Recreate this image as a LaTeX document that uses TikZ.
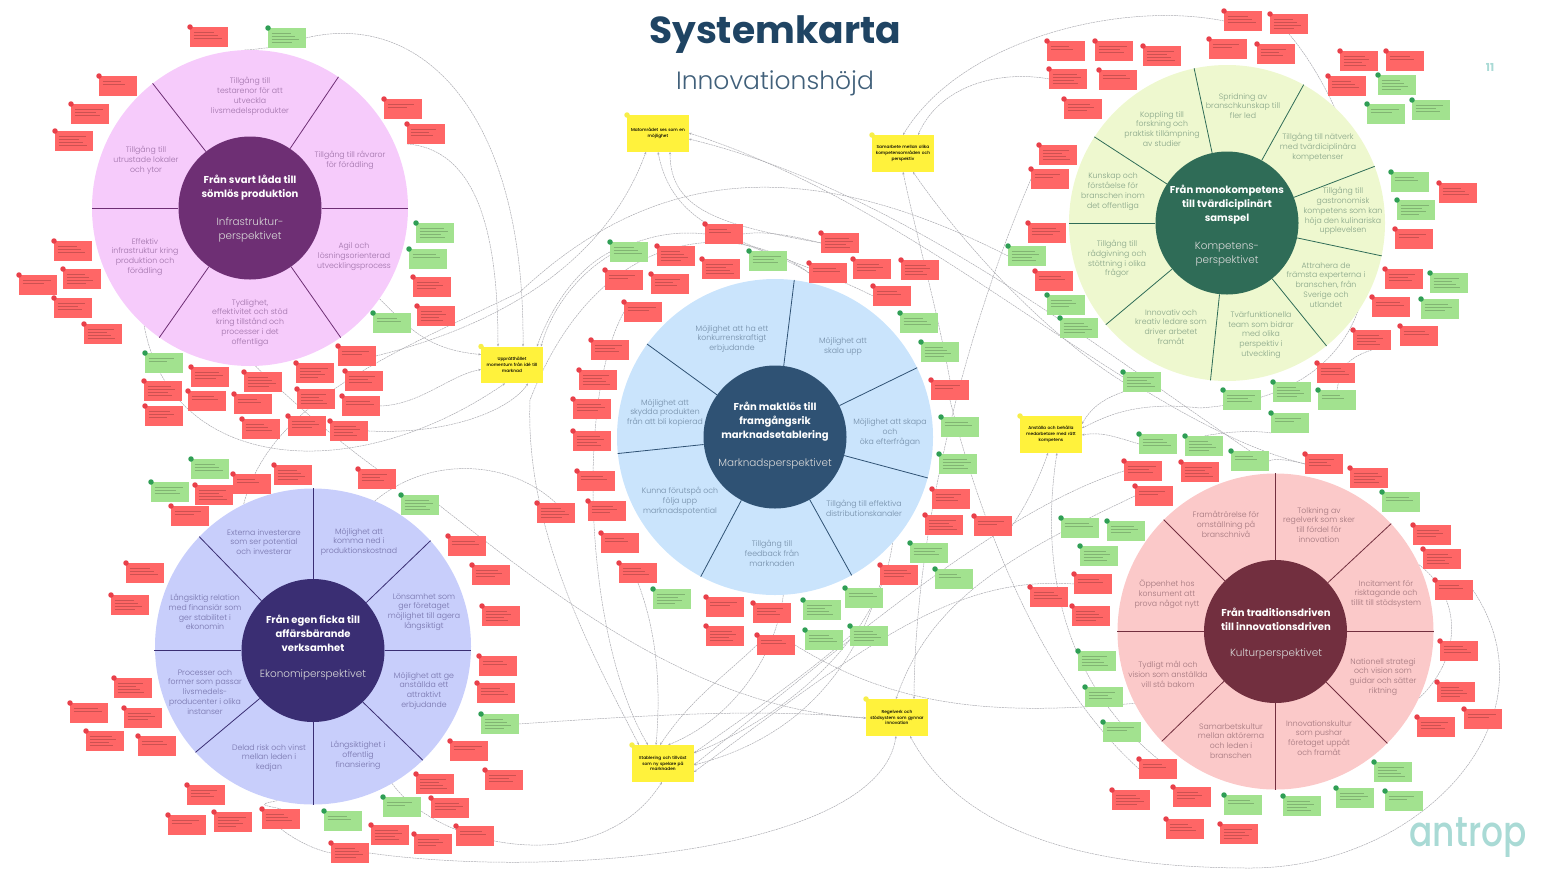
\documentclass[tikz,border=0pt]{standalone}
\usepackage{fontspec}
\usepackage{graphicx}
\setmainfont{Poppins}
\newfontfamily\lightf{Poppins Light}
\newfontfamily\medf{Poppins Medium}
\usetikzlibrary{arrows.meta}
\pgfdeclarelayer{back}
\pgfsetlayers{back,main}
\definecolor{str}{HTML}{FF6666}
\definecolor{stg}{HTML}{A2E28F}
\definecolor{bdr}{HTML}{E8404A}
\definecolor{bdg}{HTML}{2F9E55}
\definecolor{sty}{HTML}{FFF23C}
\definecolor{bdy}{HTML}{F7EE4A}
\definecolor{navy}{HTML}{1F4463}
\definecolor{teal}{HTML}{A9DAD5}
\definecolor{cnn}{HTML}{ABABB0}
\definecolor{infO}{HTML}{F6CBFB}\definecolor{infC}{HTML}{6E2F74}\definecolor{infT}{HTML}{9F72A9}
\definecolor{mkO}{HTML}{CAE4FC}\definecolor{mkC}{HTML}{2F5274}\definecolor{mkT}{HTML}{738DA7}
\definecolor{koO}{HTML}{EEF8CF}\definecolor{koC}{HTML}{2F6C57}\definecolor{koT}{HTML}{86A387}
\definecolor{ekO}{HTML}{C8CEFB}\definecolor{ekC}{HTML}{3A2E73}\definecolor{ekT}{HTML}{7673AB}
\definecolor{kuO}{HTML}{FBC9C9}\definecolor{kuC}{HTML}{722F3F}\definecolor{kuT}{HTML}{A2767D}
\tikzset{
  x=1pt,y=-1pt,
  stick/.style={rectangle,anchor=north west,minimum width=37.5pt,minimum height=19.5pt,inner sep=0pt},
  badge/.style={circle,inner sep=0pt,minimum size=5.5pt},
  ynote/.style={rectangle,fill=sty,anchor=north west,minimum width=61.5pt,minimum height=36.5pt,inner sep=0pt,align=center,text width=61pt,font=\medf\fontsize{4.3}{5.8}\selectfont,text=black},
  wheelO/.style={circle,minimum size=316pt,inner sep=0pt},
  wheelC/.style={circle,minimum size=143pt,inner sep=0pt},
  spoke/.style={line width=.8pt},
  wtext/.style={align=center,inner sep=0pt,font=\lightf\fontsize{7.8}{9.9}\selectfont},
  ctitle/.style={align=center,inner sep=0pt,text=white,font=\bfseries\fontsize{10}{14}\selectfont},
  csub/.style={align=center,inner sep=0pt,text=white!85!black,font=\lightf\fontsize{10.4}{14}\selectfont},
  conn/.style={draw=cnn,line width=.5pt,dash pattern=on 2pt off .7pt,-{Stealth[length=2.6pt,width=2.2pt]}},
  plainc/.style={draw=cnn,line width=.5pt,dash pattern=on 2pt off .7pt},
}
\newcommand{\wheelpart}[5]{%
  \node[wheelO,fill=#1O] (#1O) at (#2,#3) {};
  \node[wheelC,fill=#1C] (#1C) at (#2,#4) {};
  \foreach \a in {#5} \draw[spoke,draw=#1C] (#1C.\a) -- (#1O.\a);
}
\newcommand{\cv}[4]{\draw[conn] (#1) .. controls (#2) and (#3) .. (#4);}
\newcommand{\cp}[4]{\draw[plainc] (#1) .. controls (#2) and (#3) .. (#4);}
\newcommand{\notes}[1]{%
  \foreach \id/\c/\x/\y [count=\i] in {#1} {%
    \node[stick,fill=st\c] (\id) at (\x,\y) {};
    \node[badge,fill=bd\c] (\id b) at (\id.north west) {};
    \pgfmathtruncatemacro{\nl}{2+mod(\i,3)}
    \foreach \l in {1,...,\nl} {%
      \pgfmathsetmacro{\wl}{28-mod(\l*7+\i,11)}
      \draw[black,opacity=.2,line width=.5pt] ([shift={(3.5,3+2.7*\l)}]\id.north west) -- ++(\wl,0);
    }
  }
}
\newcommand{\ybox}[4]{%
  \node[ynote] (#1) at (#2,#3) {#4};
  \node[badge,fill=bdy] (#1b) at (#1.north west) {};
}
\begin{document}
\begin{tikzpicture}
\useasboundingbox (0,0) rectangle (1544,871);

% title
\node[inner sep=0pt,text=navy,font=\bfseries\fontsize{37.6}{40}\selectfont] (title) at (775,35) {Systemkarta};
\node[inner sep=0pt,text=navy!85,font=\lightf\fontsize{25}{28}\selectfont] (subtitle) at (775,83) {Innovationshöjd};
\node[inner sep=0pt,text=teal,font=\bfseries\fontsize{11}{12}\selectfont] (pageno) at (1490,67) {11};
\node[inner sep=0pt,text=teal,font=\medf\fontsize{42}{44}\selectfont] (logo) at (1468,838) {\scalebox{.82}[1]{antrop}};

% wheels
\wheelpart{inf}{250}{208}{208}{128,56,0,-55,-125,180}
\wheelpart{mk}{775}{437}{437}{83.5,144.5,186,242,299.5,345,26}
\wheelpart{ko}{1227}{223}{223}{102.5,61,21.5,-12,-51,-96,-140,180,147}
\wheelpart{ek}{313}{646.5}{650.5}{90,42,-46,-90,-138,136}
\draw[spoke,draw=ekC] (ekC.0) -- ++(86,0);
\draw[spoke,draw=ekC] (ekC.180) -- ++(-87,0);
\wheelpart{ku}{1275.5}{631.5}{631.5}{90,43.5,0,-45,-90,-136.5,180,135}

% wheel texts
\begin{scope}[every node/.append style={wtext,text=infT}]
\node (i1) at (250,96) {Tillgång till\\testarenor för att\\utveckla\\livsmedelsprodukter};
\node (i2) at (350,160) {Tillgång till råvaror\\för förädling};
\node (i3) at (354,257) {Agil och\\lösningsorienterad\\utvecklingsprocess};
\node (i4) at (250,323) {Tydlighet,\\effektivitet och stöd\\kring tillstånd och\\processer i det\\offentliga};
\node (i5) at (145,257) {Effektiv\\infrastruktur kring\\produktion och\\förädling};
\node (i6) at (146,160) {Tillgång till\\utrustade lokaler\\och ytor};
\end{scope}
\node[ctitle] (i7) at (250,188) {Från svart låda till\\sömlös produktion};
\node[csub] (i8) at (250,230) {Infrastruktur-\\perspektivet};

\begin{scope}[every node/.append style={wtext,text=mkT}]
\node (m1) at (732,339) {Möjlighet att ha ett\\konkurrenskraftigt\\erbjudande};
\node (m2) at (843,347) {Möjlighet att\\skala upp};
\node (m3) at (890,433) {Möjlighet att skapa\\och\\öka efterfrågan};
\node (m4) at (864,508) {Tillgång till effektiva\\distributionskanaler};
\node (m5) at (772,553) {Tillgång till\\feedback från\\marknaden};
\node (m6) at (680,501) {Kunna förutspå och\\följa upp\\marknadspotential};
\node (m7) at (665,413) {Möjlighet att\\skydda produkten\\från att bli kopierad};
\end{scope}
\node[ctitle] (m8) at (775,422) {Från maktlös till\\framgångsrik\\marknadsetablering};
\node[csub] (m9) at (775,464) {Marknadsperspektivet};

\begin{scope}[every node/.append style={wtext,text=koT}]
\node (k1) at (1243,106) {Spridning av\\branschkunskap till\\fler led};
\node (k2) at (1318,147) {Tillgång till nätverk\\med tvärdiciplinära\\kompetenser};
\node (k3) at (1343,211) {Tillgång till\\gastronomisk\\kompetens som kan\\höja den kulinariska\\upplevelsen};
\node (k4) at (1326,285) {Attrahera de\\främsta experterna i\\branschen, från\\Sverige och\\utlandet};
\node (k5) at (1261,335) {Tvärfunktionella\\team som bidrar\\med olika\\perspektiv i\\utveckling};
\node (k6) at (1171,327) {Innovativ och\\kreativ ledare som\\driver arbetet\\framåt};
\node (k7) at (1117,259) {Tillgång till\\rådgivning och\\stöttning i olika\\frågor};
\node (k8) at (1113,192) {Kunskap och\\förståelse för\\branschen inom\\det offentliga};
\node (k9) at (1162,129) {Koppling till\\forskning och\\praktisk tillämpning\\av studier};
\end{scope}
\node[ctitle] (k10) at (1227,205) {Från monokompetens\\till tvärdiciplinärt\\samspel};
\node[csub] (k11) at (1227,254) {Kompetens-\\perspektivet};

\begin{scope}[every node/.append style={wtext,text=ekT}]
\node (e1) at (264,542) {Externa investerare\\som ser potential\\och investerar};
\node (e2) at (359,542) {Möjlighet att\\komma ned i\\produktionskostnad};
\node (e3) at (424,612) {Lönsamhet som\\ger företaget\\möjlighet till agera\\långsiktigt};
\node (e4) at (424,691) {Möjlighet att ge\\anställda ett\\attraktivt\\erbjudande};
\node (e5) at (358,755) {Långsiktighet i\\offentlig\\finansiering};
\node (e6) at (269,758) {Delad risk och vinst\\mellan leden i\\kedjan};
\node (e7) at (205,692) {Processer och\\former som passar\\livsmedels-\\producenter i olika\\instanser};
\node (e8) at (205,612) {Långsiktig relation\\med finansiär som\\ger stabilitet i\\ekonomin};
\end{scope}
\node[ctitle] (e9) at (313,633) {Från egen ficka till\\affärsbärande\\verksamhet};
\node[csub] (e10) at (313,675) {Ekonomiperspektivet};

\begin{scope}[every node/.append style={wtext,text=kuT}]
\node (c1) at (1226,524) {Framåtrörelse för\\omställning på\\branschnivå};
\node (c2) at (1319,525) {Tolkning av\\regelverk som sker\\till fördel för\\innovation};
\node (c3) at (1386,594) {Incitament för\\risktagande och\\tillit till stödsystem};
\node (c4) at (1383,677) {Nationell strategi\\och vision som\\guidar och sätter\\riktning};
\node (c5) at (1319,738) {Innovationskultur\\som pushar\\företaget uppåt\\och framåt};
\node (c6) at (1231,741) {Samarbetskultur\\mellan aktörerna\\och leden i\\branschen};
\node (c7) at (1168,674) {Tydligt mål och\\vision som anställda\\vill stå bakom};
\node (c8) at (1167,594) {Öppenhet hos\\konsument att\\prova något nytt};
\end{scope}
\node[ctitle] (c9) at (1276,619) {Från traditionsdriven\\till innovationsdriven};
\node[csub] (c10) at (1276,654) {Kulturperspektivet};

% yellow notes
\ybox{U}{481}{346.5}{Upprätthållet\\momentum från idé till\\marknad}
\ybox{A}{627}{115}{Matområdet ses som en\\möjlighet}
\ybox{B}{872}{135}{Samarbete mellan olika\\kompetensområden och\\perspektiv}
\ybox{G}{1020}{416}{Anställa och behålla\\medarbetare med rätt\\kompetens}
\ybox{D}{866}{699}{Regelverk och\\stödsystem som gynnar\\innovation}
\ybox{F}{632}{745}{Etablering och tillväxt\\som ny spelare på\\marknaden}

% sticky notes
\notes{I1/r/190/27,I2/g/268/28,I3/r/99/76,I4/r/71/104,I5/r/55/131,I6/r/384/99,I7/r/407/124,I8/g/416/223,I9/g/409/249,I10/r/413/277,I11/r/417/306,I12/g/373/313,I13/r/54/241,I14/r/63/269,I15/r/19/275,I16/r/54/298,I17/r/84/324,I18/g/145/353,I19/r/191/367,I20/r/144/381,I21/r/188/391,I22/r/145/406,I23/r/244/372,I24/r/234/394,I25/r/242/419,I26/r/296/363,I27/r/338/346,I28/r/345/371,I29/r/297/389,I30/r/342/396,I31/r/288/416,I32/r/330/421}
\notes{M1/g/610/242,M2/r/657/246,M3/r/705/224,M4/g/749/251,M5/r/702/259,M6/r/605/270,M7/r/651/274,M8/r/821/233,M9/r/809/263,M10/r/853/259,M11/r/901/260,M12/r/873/286,M13/g/900/313,M14/g/921/342,M15/r/624/302,M16/r/591/340,M17/r/579/370,M18/r/931/380,M19/r/573/399,M20/r/573/431,M21/r/577/471,M22/r/588/501,M23/r/537/503,M24/r/601/533,M25/r/619/563,M26/g/653/589,M27/r/706/597,M28/r/753/603,M29/g/803/600,M30/g/845/588,M31/r/880/565,M32/r/706/626,M33/r/757/635,M34/g/805/630,M35/g/850/626,M36/g/935/569,M37/g/910/543,M38/r/925/515,M39/r/974/516,M40/r/932/489,M41/g/939/454,M42/g/941/417}
\notes{K1/r/1224/11,K2/r/1270/14,K3/r/1047/41,K4/r/1095/41,K5/r/1143/46,K6/r/1209/39,K7/r/1257/44,K8/r/1049/69,K9/r/1099/70,K10/r/1064/99,K11/r/1340/51,K12/r/1386/51,K13/r/1328/76,K14/g/1378/75,K15/g/1367/104,K16/g/1412/100,K17/r/1039/145,K18/r/1031/169,K19/r/1028/223,K20/g/1008/246,K21/r/1035/271,K22/g/1047/295,K23/g/1060/318,K24/g/1391/172,K25/r/1439/183,K26/g/1397/200,K27/r/1395/229,K28/r/1385/269,K29/g/1430/273,K30/r/1372/297,K31/g/1421/299,K32/r/1353/330,K33/r/1400/326,K34/r/1317/363,K35/g/1273/382,K36/g/1318/390,K37/g/1223/390,K38/g/1123/372,K39/g/1271/413}
\notes{C1/g/1139/434,C2/g/1185/436,C3/g/1231/451,C4/r/1124/461,C5/r/1181/462,C6/r/1135/486,C7/r/1305/454,C8/r/1350/468,C9/g/1382/492,C10/r/1413/525,C11/r/1423/549,C12/r/1435/580,C13/r/1440/641,C14/r/1437/682,C15/r/1464/709,C16/r/1417/717,C17/g/1374/762,C18/g/1385/791,C19/g/1336/788,C20/g/1283/796,C21/g/1224/795,C22/r/1173/787,C23/r/1112/790,C24/r/1139/759,C25/r/1166/819,C26/r/1220/824,C27/g/1103/722,C28/g/1085/687,C29/g/1078/651,C30/g/1061/518,C31/g/1107/521,C32/g/1080/546,C33/r/1074/574,C34/r/1030/587,C35/r/1072/606}
\notes{E1/g/191/459,E2/r/274/465,E3/r/233/474,E4/g/151/482,E5/r/195/485,E6/r/171/506,E7/r/358/469,E8/g/401/495,E9/r/448/536,E10/r/472/565,E11/r/482/606,E12/r/479/656,E13/r/477/683,E14/g/481/714,E15/r/450/741,E16/r/485/770,E17/r/416/774,E18/g/383/797,E19/r/431/798,E20/r/371/825,E21/r/456/826,E22/r/414/834,E23/r/331/843,E24/g/324/811,E25/r/262/809,E26/r/214/812,E27/r/168/815,E28/r/187/785,E29/r/114/678,E30/r/70/703,E31/r/124/708,E32/r/86/731,E33/r/138/736,E34/r/126/563,E35/r/111/595}

% connectors, below everything
\begin{pgfonlayer}{back}
\coordinate (arcD) at (1250,868);
\coordinate (arcF) at (530,400);
\coordinate (arcG) at (1200,408);
\coordinate (arcK) at (520,292);
% to Uppratthallet
\cv{I2.east}{420,10}{525,110}{[xshift=42pt]U.north west}
\cv{I7.south west}{480,150}{498,240}{[xshift=17pt]U.north west}
\cv{infO.-35}{410,330}{430,350}{[yshift=-8pt]U.north west}
\cv{I30.east}{420,405}{450,375}{[yshift=-23pt]U.north west}
\cv{infO.-132}{170,470}{350,490}{[xshift=24pt]U.south west}
\cv{I32.east}{450,435}{510,410}{[xshift=47pt]U.south west}
\cv{M1.west}{575,270}{550,310}{[xshift=56pt]U.north west}
\cv{M3.west}{625,225}{560,280}{[xshift=60pt]U.north west}
% to Matomradet
\cv{I27.east}{520,320}{610,250}{[xshift=19pt]A.south west}
\cv{M12.west}{760,240}{675,240}{[xshift=31pt]A.south west}
\cv{M8.west}{720,225}{670,210}{[xshift=43pt]A.south west}
\cv{C7.west}{1130,420}{930,210}{[yshift=-18pt]A.north east}
\cv{C3.north}{1100,350}{900,190}{[yshift=-24pt]A.north east}
% to Samarbete
\cv{K1.west}{1120,0}{960,40}{[xshift=31pt]B.north west}
\cv{K8.west}{1000,70}{940,85}{[xshift=46pt]B.north west}
\cv{M18.north}{935,300}{915,230}{[xshift=31pt]B.south west}
\cv{K38.west}{1040,330}{960,240}{[xshift=41pt]B.south west}
% to Regelverk
\cv{K18.west}{970,320}{915,520}{[xshift=48pt]D.north west}
\cv{C6.west}{1010,555}{930,600}{[xshift=30pt]D.north west}
\cv{E14.east}{650,715}{760,708}{[yshift=-19pt]D.north west}
\cv{E8.east}{560,600}{700,710}{[yshift=-19pt]D.north west}
\cv{E23.east}{560,880}{880,850}{[xshift=30pt]D.south west}
\draw[conn] (C12.east) .. controls (1560,720) and (1420,868) .. (arcD) .. controls (1080,868) and (960,830) .. ([xshift=44pt]D.south west);
% to Etablering
\draw[conn] (M9.west) .. controls (740,220) and (600,220) .. (arcF) .. controls (525,530) and (590,650) .. ([xshift=7pt]F.north west);
\cv{M15.west}{575,400}{585,640}{[xshift=16pt]F.north west}
\cv{M25.south}{660,640}{660,700}{[xshift=24pt]F.north west}
\cv{M33.west}{720,680}{690,700}{[xshift=28pt]F.north west}
\cv{mkO.-87}{775,660}{730,720}{[xshift=36pt]F.north west}
\cv{M35.west}{800,680}{740,720}{[yshift=-8pt]F.north east}
\cv{mkO.-42}{880,640}{780,720}{[yshift=-8pt]F.north east}
\cv{M31.south west}{850,680}{790,740}{[yshift=-20pt]F.north east}
\cv{C4.west}{1000,510}{850,640}{[yshift=-20pt]F.north east}
\cv{C33.west}{950,575}{860,650}{[yshift=-27pt]F.north east}
\cv{ekO.-60}{440,850}{600,880}{[xshift=30pt]F.south west}
% to Anstalla
\cv{M39.east}{1030,500}{1042,470}{[xshift=28pt]G.south west}
\cv{C24.north}{1060,680}{1040,560}{[xshift=37pt]G.south west}
\cv{C1.west}{1110,435}{1100,432}{[yshift=-19pt]G.north east}
\cv{K38.south west}{1100,400}{1090,410}{[yshift=-8pt]G.north east}
\draw[conn] (K2.south) .. controls (1370,130) and (1450,390) .. (arcG) .. controls (1130,400) and (1100,420) .. ([yshift=-12pt]G.north east);
% links between notes and wheels
\draw[plainc] (K20.west) .. controls (800,150) and (650,170) .. (arcK) .. controls (400,350) and (270,400) .. (ekO.116);
\cp{infO.-88}{285,395}{330,435}{E7.north}
\cp{ekO.67}{430,455}{510,460}{M23.north}
\cp{E25.south}{295,840}{315,850}{E23.west}
\cp{ekO.-103}{255,805}{265,805}{E25.north}
\cp{K39.south west}{1250,430}{1225,432}{C2.north}
\cp{K32.south}{1340,360}{1340,375}{K36.north}
\cp{M33.east}{900,710}{1000,715}{kuO.-153}
\cp{kuO.25}{1465,600}{1460,660}{kuO.-25}
\cp{C3.east}{1275,458}{1290,460}{C7.west}
\cp{M18.south}{980,520}{1040,680}{C24.west}
\cp{M3.east}{770,230}{800,238}{M8.west}
\cp{M3.south east}{760,250}{790,260}{M9.west}
\cp{I2.south west}{260,48}{255,50}{infO.92}
\end{pgfonlayer}
\end{tikzpicture}
\end{document}
